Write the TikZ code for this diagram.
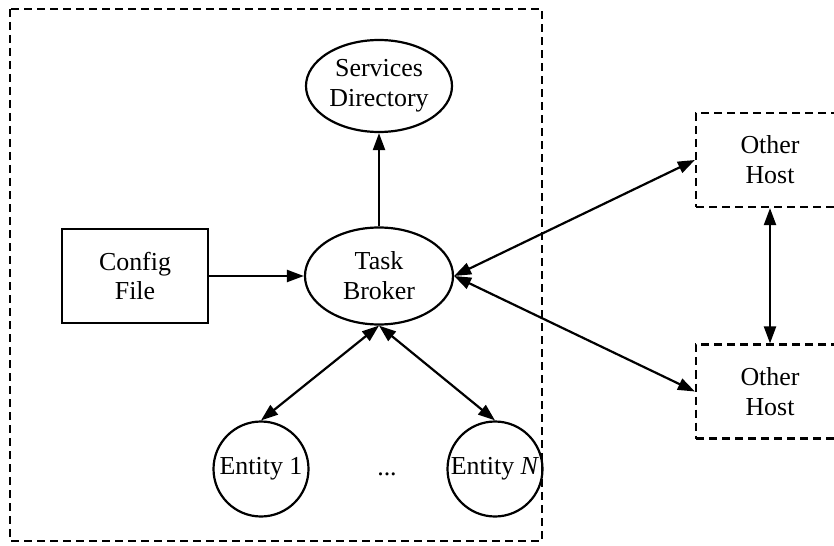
\documentclass[tikz,border=0pt]{standalone}
\usepackage{fontspec}
\setmainfont{Liberation Serif}
\usetikzlibrary{shapes.geometric,arrows.meta}
\tikzset{
  base/.style={draw, line width=2.2bp, inner sep=0pt, align=center,
    font=\fontsize{26}{30}\selectfont},
  oval/.style={base, ellipse},
  entitycircle/.style={base, circle, minimum size=95bp},
  filebox/.style={base, rectangle, minimum width=146bp, minimum height=94bp},
  hostbox/.style={base, rectangle, dash pattern=on 8bp off 5bp, minimum width=148bp, minimum height=94bp},
  tip/.tip={Triangle[length=17bp,width=12bp]},
  link/.style={line width=2.2bp, -tip},
  dlink/.style={line width=2.2bp, tip-tip},
}
\begin{document}
\begin{tikzpicture}[x=1bp,y=-1bp]
\useasboundingbox (0,0) rectangle (834,546);
\fill[white] (0,0) rectangle (834,546);
\clip (0,0) rectangle (834,546);
% outer host boundary
\draw[line width=2.2bp, dash pattern=on 8bp off 5bp] (10,9) rectangle (542,541);
% nodes
\node[oval, minimum width=146bp, minimum height=92bp] (sd) at (379,86) {Services\\Directory};
\node[oval, minimum width=148bp, minimum height=97bp] (tb) at (379,276) {Task\\Broker};
\node[filebox] (cf) at (135,276) {Config\\File};
\node[entitycircle, label={[font=\fontsize{26}{30}\selectfont]center:Entity 1}] (e1) at (261,469) {};
\node[entitycircle, label={[font=\fontsize{26}{30}\selectfont]center:Entity \textit{N}}] (en) at (495,469) {};
\node[font=\fontsize{26}{30}\selectfont] (dots) at (387,474) {...};
\node[hostbox] (h1) at (770,160) {Other\\Host};
\node[hostbox] (h2) at (770,391.5) {Other\\Host};
% connectors
\draw[link] (tb.north) -- (sd.south);
\draw[link] (cf.east) -- (tb.west);
\draw[dlink] (e1.north) -- (tb.south);
\draw[dlink] (en.north) -- (tb.south);
\draw[dlink] (tb.east) -- (h1.west);
\draw[dlink] (tb.east) -- (h2.west);
\draw[dlink] (h1.south) -- (h2.north);
\end{tikzpicture}
\end{document}
